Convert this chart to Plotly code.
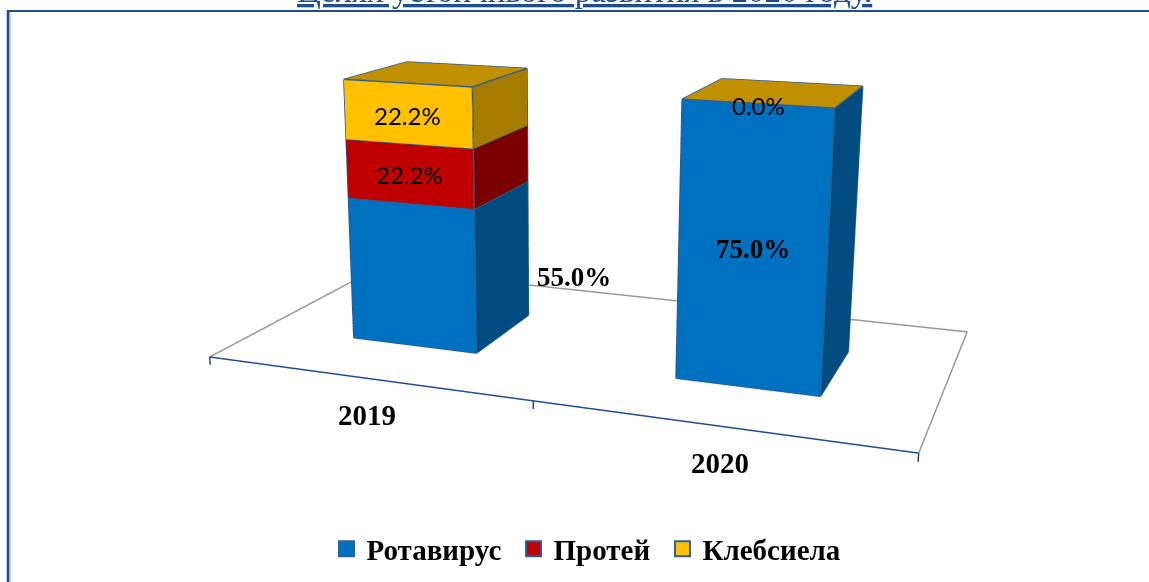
import numpy as np
import plotly.graph_objects as go

# ---- data ----
years = ["2019", "2020"]
rotavirus = [55.0, 75.0]
proteus = [22.2, 0.0]
klebsiella = [22.2, 0.0]
series_names = ["Ротавирус", "Протей", "Клебсиела"]
title_text = "Целях устойчивого развития в 2020 году."

# ---- styles ----
front = ["#0070C0", "#C00000", "#FFC000"]
side = ["#004B80", "#7B0000", "#A67C00"]
top_colour = "#C09000"
edge = "#2F5E96"
navy = "#1F4E8C"
serif = "Liberation Serif"
sans = "Lato, Open Sans, sans-serif"

W, H = 1149, 1243       # scene height gives the 45 degree lens a 1500 px focal length
OFF = 350               # page offset of the figure top
series = [rotavirus, proteus, klebsiella]
totals = np.sum(series, axis=0)
shares = [np.array(s) / totals for s in series]

# camera orientation
F, PU, PV = 1500.0, 560.0, 271.0
e, a = np.arctan(417 / 1500), np.radians(21.0)
h = np.array([-np.sin(a), np.cos(a), 0])
d = np.cos(e) * h + np.array([0, 0, -np.sin(e)])
r_v = np.array([np.cos(a), np.sin(a), 0])
up_v = np.sin(e) * h + np.array([0, 0, np.cos(e)])


def on_floor(u, v):
    ray = (u - PU) / F * r_v + (PV - v) / F * up_v + d
    return ray[:2] / -ray[2]


# plot-box calibration: floor corners of the picture, camera height = 1
pa, pb, pc = on_floor(205, 359), on_floor(920, 449), on_floor(973, 332)
x0, y0 = pa[0], (pa[1] + pb[1]) / 2
sx, sy, sz = (pb[0] - pa[0]) / 2, pc[1] - (pa[1] + pb[1]) / 2, 0.556
xr, yr, zr = (-0.05, 2.05), (-0.05, 1.05), (-0.1, 1.1)
bar_w, bar_front, bar_back = 0.4, 0.3, 0.69


def wc(x, y, z):
    return np.array([x0 + sx * x, y0 + sy * y, sz * z])


box_c = wc(np.mean(xr), np.mean(yr), np.mean(zr))
eye = np.array([0, 0, 1.0]) - box_c
center = eye + 3 * d

fig = go.Figure()


def add_box(xc, z0, z1, i, with_top):
    xa, xb = xc - bar_w / 2, xc + bar_w / 2
    ya, yb = bar_front, bar_back
    vx = [xa, xb, xb, xa, xa, xb, xb, xa]
    vy = [ya, ya, yb, yb, ya, ya, yb, yb]
    vz = [z0, z0, z0, z0, z1, z1, z1, z1]
    faces = [((0, 1, 5), front[i]), ((0, 5, 4), front[i]),
             ((1, 2, 6), side[i]), ((1, 6, 5), side[i]),
             ((3, 2, 6), side[i]), ((3, 6, 7), side[i]),
             ((0, 3, 7), side[i]), ((0, 7, 4), side[i])]
    if with_top:
        faces += [((4, 5, 6), top_colour), ((4, 6, 7), top_colour)]
    fig.add_trace(go.Mesh3d(
        x=vx, y=vy, z=vz,
        i=[f[0][0] for f in faces], j=[f[0][1] for f in faces], k=[f[0][2] for f in faces],
        facecolor=[f[1] for f in faces], flatshading=True, hoverinfo="skip", showlegend=False,
        lighting=dict(ambient=1, diffuse=0, specular=0, roughness=1, fresnel=0)))
    ex, ey, ez = [], [], []
    segs = [(0, 1), (1, 2), (4, 5), (5, 6), (0, 4), (1, 5), (2, 6)]
    if with_top:
        segs += [(6, 7), (7, 4)]
    for p, q in segs:
        if (vx[p], vy[p], vz[p]) == (vx[q], vy[q], vz[q]):
            continue
        ex += [vx[p], vx[q], None]
        ey += [vy[p], vy[q], None]
        ez += [vz[p], vz[q], None]
    fig.add_trace(go.Scatter3d(x=ex, y=ey, z=ez, mode="lines", hoverinfo="skip", showlegend=False,
                               line=dict(color=edge, width=3)))


# floor
fig.add_trace(go.Scatter3d(x=[0, 0, 2, 2], y=[0, 1, 1, 0], z=[0, 0, 0, 0], mode="lines",
                           hoverinfo="skip", showlegend=False, line=dict(color="#9A9A9A", width=3)))
tx, ty, tz = [0, 2, None], [0, 0, None], [0, 0, None]
for t in range(3):
    tx += [t, t, None]
    ty += [0, 0, None]
    tz += [0, -0.03, None]
fig.add_trace(go.Scatter3d(x=tx, y=ty, z=tz, mode="lines", hoverinfo="skip", showlegend=False,
                           line=dict(color=navy, width=3)))

# bars
for c in range(len(years)):
    base = 0.0
    for i in range(3):
        top = base + shares[i][c]
        add_box(c + 0.5, base, top, i, i == 2)
        base = top

# legend carriers
for i, n in enumerate(series_names):
    fig.add_trace(go.Scatter(x=[None], y=[None], mode="markers", name=n + "\u00a0", xaxis="x", yaxis="y",
                             marker=dict(symbol="square", size=15, color=front[i],
                                         line=dict(color=edge, width=2))))

scene_ann = []


def value_label(c, i, fmt_font, size, xs, ys, bold):
    base = sum(shares[k][c] for k in range(i))
    txt = f"{series[i][c]:.1f}%"
    scene_ann.append(dict(x=c + 0.5, y=bar_front, z=base + shares[i][c] / 2,
                          text=f"<b>{txt}</b>" if bold else txt, showarrow=False, xshift=xs, yshift=ys,
                          font=dict(family=fmt_font, size=size, color="#000000")))


value_label(0, 0, serif, 27, 162, -2, True)
value_label(0, 1, sans, 24, 0, -1, False)
value_label(0, 2, sans, 24, 0, -2, False)
value_label(1, 0, serif, 27, 1, 0, True)
value_label(1, 1, sans, 24, 1, -2, False)
for c, (xs, ys) in enumerate([(2, -37), (3, -37)]):
    scene_ann.append(dict(x=c + 0.5, y=0, z=0, text=f"<b>{years[c]}</b>", showarrow=False,
                          xshift=xs, yshift=ys, font=dict(family=serif, size=29, color="#000000")))


def py(p):
    return 1 - (p + OFF) / H


fig.update_layout(
    width=W, height=H, margin=dict(l=0, r=0, t=0, b=0), paper_bgcolor="white", plot_bgcolor="white",
    xaxis=dict(visible=False, domain=[0, 0.01]), yaxis=dict(visible=False, domain=[0, 0.01]),
    scene=dict(
        domain=dict(x=[0, 1120 / W], y=[0, 1]),
        bgcolor="white",
        xaxis=dict(visible=False, range=xr, autorange=False),
        yaxis=dict(visible=False, range=yr, autorange=False),
        zaxis=dict(visible=False, range=zr, autorange=False),
        aspectmode="manual",
        aspectratio=dict(x=sx * (xr[1] - xr[0]), y=sy * (yr[1] - yr[0]), z=sz * (zr[1] - zr[0])),
        camera=dict(eye=dict(x=eye[0], y=eye[1], z=eye[2]),
                    center=dict(x=center[0], y=center[1], z=center[2]),
                    up=dict(x=0, y=0, z=1),
                    projection=dict(type="perspective")),
        annotations=scene_ann,
    ),
    legend=dict(orientation="h", x=590 / W, xanchor="center", y=py(549), yanchor="middle",
                font=dict(family=serif, size=29, color="#000000", weight="bold"),
                bgcolor="rgba(0,0,0,0)"),
    annotations=[dict(xref="paper", yref="paper", x=584 / W, y=py(4), yanchor="bottom", yshift=-7,
                      text=f"<u>{title_text}</u>", showarrow=False,
                      font=dict(family=serif, size=33, color=navy))],
    shapes=[dict(type="line", xref="paper", yref="paper", x0=10 / W, x1=10 / W, y0=py(12), y1=py(582),
                 line=dict(color="#B4C7E7", width=1.5)),
            dict(type="line", xref="paper", yref="paper", x0=8 / W, x1=8 / W, y0=py(10), y1=py(582),
                 line=dict(color=navy, width=2.5)),
            dict(type="line", xref="paper", yref="paper", x0=7 / W, x1=1, y0=py(11), y1=py(11),
                 line=dict(color=navy, width=2))],
)

post = """
var g=document.querySelector('.plotly-graph-div');
document.documentElement.style.overflow='hidden';
document.body.style.overflow='hidden';
document.body.style.margin='0';
g.style.position='absolute';g.style.left='0px';g.style.top='-%dpx';
""" % OFF
fig.write_html("out.html", post_script=post, config=dict(displayModeBar=False))
